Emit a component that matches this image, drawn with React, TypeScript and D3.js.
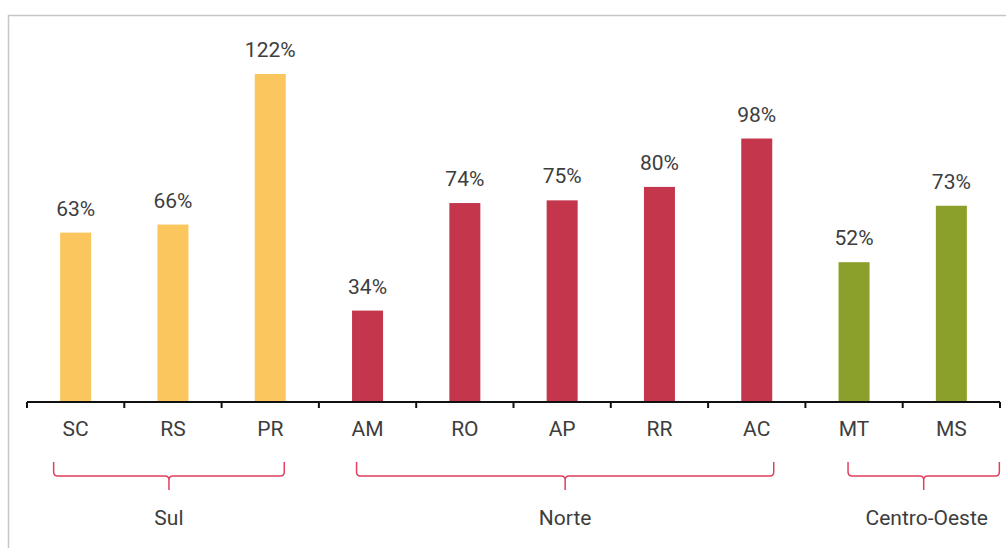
import React from 'react';
import * as d3 from 'd3';

// Data
const states = ['SC', 'RS', 'PR', 'AM', 'RO', 'AP', 'RR', 'AC', 'MT', 'MS'];
const values = [63, 66, 122, 34, 74, 75, 80, 98, 52, 73];
const regionOf = ['Sul', 'Sul', 'Sul', 'Norte', 'Norte', 'Norte', 'Norte', 'Norte', 'Centro-Oeste', 'Centro-Oeste'];
const regions = ['Sul', 'Norte', 'Centro-Oeste'];
const regionColors = ['#FCC65E', '#C3364C', '#8BA02A'];

// bracket overhang (px) past the first / last band centre of each region
const bracketPad: Record<string, [number, number]> = {
  'Sul': [-22, 14],
  'Norte': [-11, 17],
  'Centro-Oeste': [-6, 48],
};

const W = 1006;
const H = 548;
const axisY = 402;
const font = 'Roboto, "Noto Sans", sans-serif';
const textColor = '#3d3d3d';
const bracketColor = '#E0405E';

const App = () => {
  const band = d3.scaleBand<string>().domain(states).range([27, 1000]).padding(0);
  const step = band.step();
  const barW = 31;
  const center = (s: string) => (band(s) as number) + step / 2;

  const y = d3.scaleLinear().domain([0, 122]).range([axisY, 74]);
  const color = d3.scaleOrdinal<string, string>().domain(regions).range(regionColors);

  const tickXs = states.map(s => band(s) as number).concat([1000]);

  const bracket = (l: number, r: number) => {
    const c = (l + r) / 2;
    const top = 462, mid = 476, tip = 490, rr = 4;
    return `M${l},${top} L${l},${mid - rr} Q${l},${mid} ${l + rr},${mid} L${c - rr},${mid} Q${c},${mid} ${c},${mid + rr} L${c},${tip}` +
      ` M${c},${mid + rr} Q${c},${mid} ${c + rr},${mid} L${r - rr},${mid} Q${r},${mid} ${r},${mid - rr} L${r},${top}`;
  };

  return (
    <svg width={W} height={H} style={{ position: 'absolute', left: 0, top: 0 }} fontFamily={font}>
      <rect x={0} y={0} width={W} height={H} fill="#fff" />
      <path d={`M8.5,${H} L8.5,15.5 L${W},15.5`} fill="none" stroke="#c6c6c6" strokeWidth={1.5} />

      {states.map((s, i) => (
        <g key={s}>
          <rect
            x={center(s) - barW / 2}
            y={y(values[i])}
            width={barW}
            height={axisY - y(values[i])}
            fill={color(regionOf[i])}
          />
          <text x={center(s)} y={y(values[i]) - 17} textAnchor="middle" fontSize={21} fill={textColor}>
            {values[i]}%
          </text>
          <text x={center(s)} y={436} textAnchor="middle" fontSize={21} fill={textColor}>
            {s}
          </text>
        </g>
      ))}

      <line x1={27} x2={1000} y1={axisY} y2={axisY} stroke="#111" strokeWidth={2} />
      {tickXs.map((t, i) => (
        <line key={i} x1={t} x2={t} y1={axisY} y2={axisY + 6} stroke="#111" strokeWidth={2} />
      ))}

      {regions.map(r => {
        const members = states.filter((_, i) => regionOf[i] === r);
        const l = center(members[0]) + bracketPad[r][0];
        const rt = center(members[members.length - 1]) + bracketPad[r][1];
        return (
          <g key={r}>
            <path d={bracket(l, rt)} fill="none" stroke={bracketColor} strokeWidth={1.5} />
            <text x={(l + rt) / 2 + (r === 'Centro-Oeste' ? 3 : 0)} y={525} textAnchor="middle" fontSize={21} fill={textColor}>
              {r}
            </text>
          </g>
        );
      })}
    </svg>
  );
};

export default App;
